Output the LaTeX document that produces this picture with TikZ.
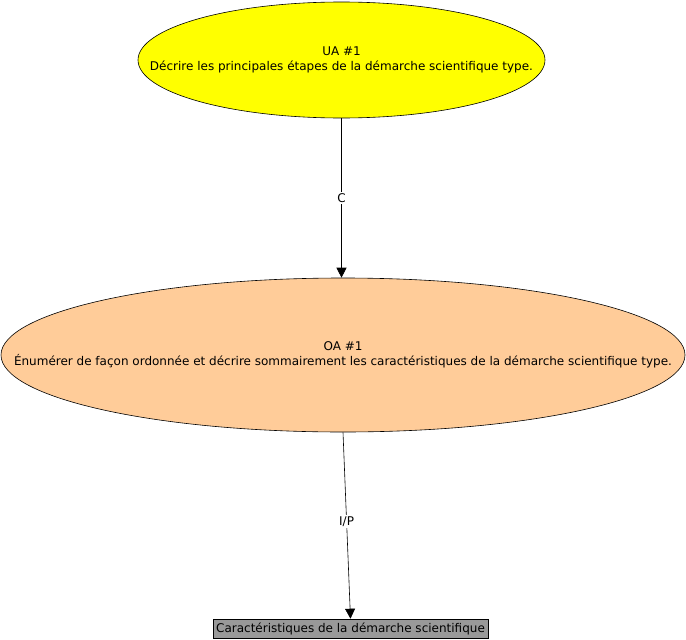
\documentclass[tikz,border=0pt]{standalone}
\usepackage{fontspec}
\setmainfont{DejaVu Sans}
\usetikzlibrary{shapes.geometric,arrows.meta}
\definecolor{jaune}{HTML}{FFFF00}
\definecolor{peche}{HTML}{FFCC99}
\definecolor{gris}{HTML}{999999}
\tikzset{
    ua/.style={ellipse, draw, semithick, fill=jaune, inner sep=0pt},
    oa/.style={ellipse, draw, semithick, fill=peche, inner sep=0pt},
    texte/.style={align=center, inner sep=0pt, font=\fontsize{12}{15}\selectfont},
    boite/.style={rectangle, draw, semithick, fill=gris, inner sep=0pt, font=\fontsize{12}{14}\selectfont},
    lien/.style={-{Triangle[length=10pt,width=10pt]}, semithick},
    etiq/.style={fill=white, inner sep=1.5pt, font=\fontsize{12}{14}\selectfont}
}
\begin{document}
\begin{tikzpicture}[x=1pt, y=-1pt]
    \useasboundingbox (0,0) rectangle (686,640);
    % Unite
    \node[ua, minimum width=407pt, minimum height=116pt] (ua) at (341.5,60) {};
    \node[texte] at (ua) {UA \#1\\D\'ecrire les principales \'etapes de la d\'emarche scientifique type.};
    % Objectif
    \node[oa, minimum width=684pt, minimum height=154pt] (oa) at (343,355) {};
    \node[texte] at (oa) {OA \#1\\\'Enum\'erer de fa\c{c}on ordonn\'ee et d\'ecrire sommairement les caract\'eristiques de la d\'emarche scientifique type.};
    % Contenu
    \node[boite, minimum width=275pt, minimum height=19pt] (carac) at (350.5,628.5)
        {Caract\'eristiques de la d\'emarche scientifique};
    % Liens
    \draw[lien] (ua.south) -- node[etiq, pos=0.5] {C} (ua.south |- oa.north);
    \draw[lien] (oa.south) -- node[etiq, pos=0.48] {I/P} (carac.north);
\end{tikzpicture}
\end{document}
